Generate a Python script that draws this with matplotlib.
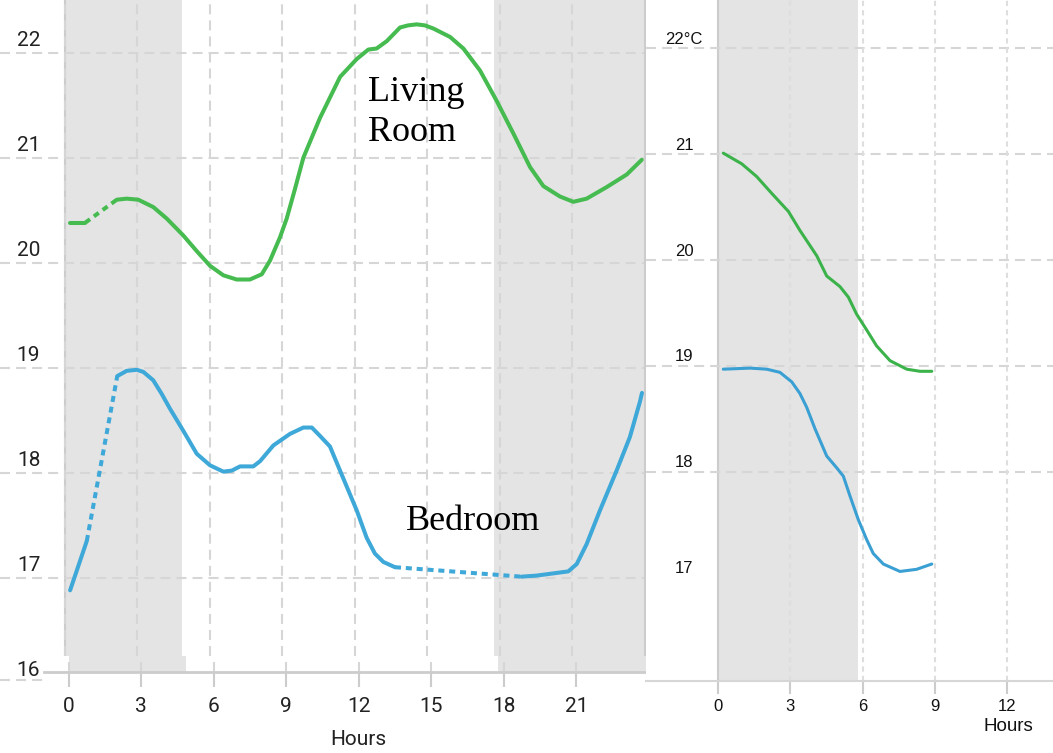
import matplotlib
matplotlib.use('Agg')
import matplotlib.pyplot as plt
from matplotlib.lines import Line2D

# Day view (24 h): living room and bedroom temperatures, degrees C
living_hours = [0.22, 0.84, 2.15, 2.56, 3.04, 3.66, 4.22, 4.90, 5.46, 6.01, 6.56, 7.11,
                7.66, 8.15, 8.49, 8.90, 9.18, 9.52, 9.87, 10.56, 11.39, 12.08, 12.56, 12.90,
                13.32, 13.87, 14.20, 14.56, 14.90, 15.25, 15.94, 16.49, 17.18, 17.87, 18.56,
                19.25, 19.80, 20.49, 21.04, 21.59, 22.42, 23.25, 23.87]
living_temps = [20.38, 20.38, 20.60, 20.61, 20.60, 20.53, 20.42, 20.26, 20.11, 19.97, 19.88, 19.84,
                19.84, 19.89, 20.02, 20.24, 20.42, 20.70, 21.00, 21.38, 21.77, 21.94, 22.03, 22.04,
                22.11, 22.24, 22.26, 22.27, 22.26, 22.23, 22.15, 22.04, 21.83, 21.54, 21.23,
                20.91, 20.73, 20.63, 20.58, 20.61, 20.72, 20.84, 20.98]
living_gaps = [1]

bedroom_hours = [0.22, 0.91, 2.17, 2.56, 2.98, 3.25, 3.66, 4.01, 4.35, 4.90, 5.46, 6.01,
                 6.56, 6.91, 7.25, 7.80, 8.08, 8.63, 9.32, 9.87, 10.22, 10.56, 10.97, 11.46,
                 12.08, 12.49, 12.83, 13.18, 13.66, 18.90, 19.52, 20.83, 21.18, 21.59, 22.14,
                 22.83, 23.38, 23.80, 23.88]
bedroom_temps = [16.88, 17.35, 18.92, 18.97, 18.98, 18.96, 18.88, 18.75, 18.61, 18.40, 18.18, 18.07,
                 18.01, 18.02, 18.06, 18.06, 18.11, 18.26, 18.37, 18.43, 18.43, 18.35, 18.25, 17.98,
                 17.64, 17.38, 17.23, 17.15, 17.10, 17.01, 17.02, 17.06, 17.13, 17.32, 17.64,
                 18.02, 18.34, 18.68, 18.76]
bedroom_gaps = [1, 28]

night_bands = [(0.0, 4.85), (17.76, 24.0)]
day_xticks = [0, 3, 6, 9, 12, 15, 18, 21]
day_yticks = [16, 17, 18, 19, 20, 21, 22]

# Morning view (next day)
morning_living_hours = [0.22, 0.98, 1.60, 2.23, 2.92, 3.40, 4.10, 4.51, 5.06, 5.41, 5.75, 6.17,
                        6.58, 7.14, 7.83, 8.38, 8.87]
morning_living_temps = [21.01, 20.91, 20.79, 20.63, 20.46, 20.28, 20.04, 19.85, 19.75, 19.65, 19.49, 19.34,
                        19.19, 19.05, 18.97, 18.95, 18.95]
morning_bedroom_hours = [0.22, 1.33, 2.02, 2.57, 3.06, 3.40, 3.68, 4.02, 4.51, 4.92, 5.20, 5.48,
                         5.82, 6.17, 6.44, 6.86, 7.55, 8.24, 8.87]
morning_bedroom_temps = [18.97, 18.98, 18.97, 18.94, 18.85, 18.74, 18.61, 18.41, 18.15, 18.04, 17.96, 17.77,
                         17.55, 17.36, 17.23, 17.13, 17.06, 17.08, 17.13]
morning_band = (0.0, 5.8)
morning_xticks = [0, 3, 6, 9, 12]
morning_yticks = [17, 18, 19, 20, 21, 22]
morning_ylabels = ['17', '18', '19', '20', '21', '22°C']

GREEN = '#45bb50'
BLUE = '#3ea8d8'
GREEN2 = '#3bb34a'
BLUE2 = '#3a9fd2'
BAND = '#e4e4e4'
GRID = '#d6d6d6'
AXIS = '#cccccc'

W, H = 1053, 753


def draw_series(ax, hours, temps, gaps, color, lw):
    # solid runs, with a dashed piece where readings are missing
    start = 0
    for i in gaps:
        ax.plot(hours[start:i + 1], temps[start:i + 1], color=color, lw=lw,
                solid_capstyle='round', solid_joinstyle='round', zorder=4)
        ax.plot(hours[i:i + 2], temps[i:i + 2], color=color, lw=lw,
                linestyle=(0, (1.5, 1.2)), dash_capstyle='butt', zorder=4)
        start = i + 1
    ax.plot(hours[start:], temps[start:], color=color, lw=lw,
            solid_capstyle='round', solid_joinstyle='round', zorder=4)


fig = plt.figure(figsize=(W / 100, H / 100), dpi=100)

# ---- day panel ----
xl = (-64.8 / 24.17, (645 - 64.8) / 24.17)

# bottom strip with the hour axis (sits a few pixels to the right)
axb = fig.add_axes([4 / W, (H - 672) / H, 645 / W, 16.5 / H])
axb.set_facecolor('none')
axb.set_xlim(*xl)
axb.set_ylim(0, 1)
for a, b in night_bands:
    axb.axvspan(a, b, color=BAND, lw=0, zorder=0)
for h in day_xticks:
    axb.axvline(h, color=GRID, lw=1.5, linestyle=(0, (4.8, 2.9)), zorder=1)
axb.set_yticks([])
for s in ['top', 'left', 'right']:
    axb.spines[s].set_visible(False)
axb.spines['bottom'].set_color(AXIS)
axb.spines['bottom'].set_linewidth(2)
axb.spines['bottom'].set_bounds(-1.03, 24.25)
axb.set_xticks(day_xticks)
axb.set_xticklabels([str(h) for h in day_xticks], family='Roboto', fontsize=15, color='#222222')
axb.tick_params(axis='x', length=11, width=1.5, color=AXIS, pad=7)
axb.set_xlabel('Hours', family='Roboto', fontsize=15, color='#222222')
axb.xaxis.set_label_coords((358 - 4) / 645, -3.5)

ax = fig.add_axes([0, (H - 655.5) / H, 645 / W, 655.5 / H])
ax.set_facecolor('none')
ax.set_xlim(*xl)
ax.set_ylim(22 - (655.5 - 52.7) / 105, 22 + 52.7 / 105)
for a, b in night_bands:
    ax.axvspan(a, b, color=BAND, lw=0, zorder=0)
ax.axvline(0, color=AXIS, lw=1.5, zorder=1)
for t in day_yticks[1:]:
    ax.axhline(t, color=GRID, lw=1.5, linestyle=(0, (4.8, 2.9)), zorder=1)
for h in day_xticks:
    ax.axvline(h, color=GRID, lw=1.5, linestyle=(0, (4.8, 2.9)), zorder=1)
for t in day_yticks:
    ax.text(-1.5, t + 0.12, str(t), ha='center', va='center', fontsize=15,
            family='Roboto', color='#222222')
ax.set_xticks([])
ax.set_yticks([])
for s in ['top', 'left', 'bottom']:
    ax.spines[s].set_visible(False)
ax.spines['right'].set_color(AXIS)
ax.spines['right'].set_linewidth(1.5)

draw_series(ax, living_hours, living_temps, living_gaps, GREEN, 2.9)
draw_series(ax, bedroom_hours, bedroom_temps, bedroom_gaps, BLUE, 2.9)

ax.text(12.55, 21.54, 'Living', family='Liberation Serif', fontsize=26,
        va='baseline', ha='left', color='black', zorder=5)
ax.text(12.55, 21.16, 'Room', family='Liberation Serif', fontsize=26,
        va='baseline', ha='left', color='black', zorder=5)
ax.text(14.12, 17.45, 'Bedroom', family='Liberation Serif', fontsize=26,
        va='baseline', ha='left', color='black', zorder=5)

fig.add_artist(Line2D([0, 44 / W], [(H - 680) / H] * 2, color=GRID, lw=1.5,
                      linestyle=(0, (4.8, 2.9))))

# ---- morning panel ----
ax2 = fig.add_axes([646 / W, (H - 681) / H, (W - 646) / W, 681 / H])
ax2.set_xlim((646 - 718) / 24.1, (W - 718) / 24.1)
ax2.set_ylim(22 - (681 - 48.3) / 105.9, 22 + 48.3 / 105.9)
ax2.axvspan(*morning_band, color=BAND, lw=0, zorder=0)
ax2.axvline(0, color=AXIS, lw=1.5, zorder=1)
for t in morning_yticks[1:]:
    ax2.axhline(t, color=GRID, lw=1.5, linestyle=(0, (4.8, 2.9)), zorder=1)
for h in morning_xticks[1:]:
    ax2.axvline(h, color='#dedede', lw=1.5, linestyle=(0, (2.5, 2)), zorder=1)
for t, lab in zip(morning_yticks, morning_ylabels):
    ax2.text(-1.4, t + 0.085, lab, ha='center', va='center', fontsize=12,
             family='Liberation Sans', color='#111111')
ax2.set_yticks([])
for s in ['top', 'left', 'right']:
    ax2.spines[s].set_visible(False)
ax2.spines['bottom'].set_color('#d6d6d6')
ax2.spines['bottom'].set_linewidth(1.5)
ax2.set_xticks(morning_xticks)
ax2.set_xticklabels([str(h) for h in morning_xticks], family='Liberation Sans',
                    fontsize=12, color='#111111')
ax2.tick_params(axis='x', length=9, width=1.5, color=AXIS, pad=4)
ax2.set_xlabel('Hours', family='Liberation Sans', fontsize=13.5, color='#111111')
ax2.xaxis.set_label_coords((1008 - 646) / (W - 646), -0.055)

ax2.plot(morning_living_hours, morning_living_temps, color=GREEN2, lw=2.2,
         solid_capstyle='round', zorder=4)
ax2.plot(morning_bedroom_hours, morning_bedroom_temps, color=BLUE2, lw=2.2,
         solid_capstyle='round', zorder=4)

fig.savefig('out.png', dpi=100)
